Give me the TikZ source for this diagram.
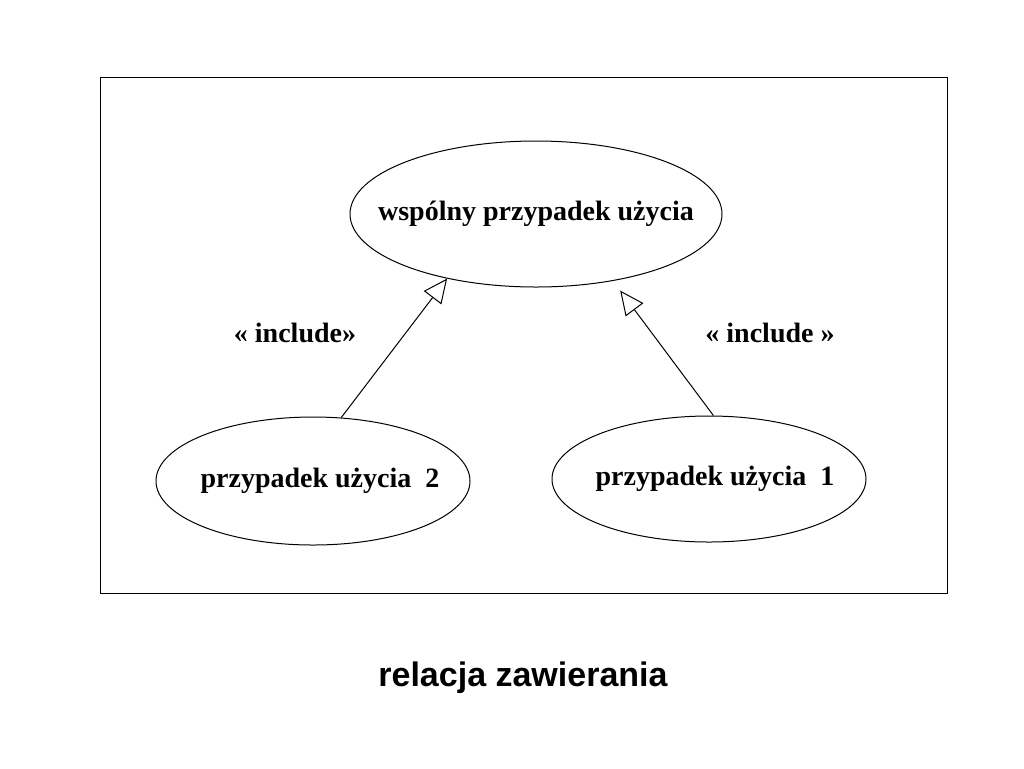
\documentclass[tikz,border=0pt]{standalone}
\usepackage{fontspec}
\setmainfont{Liberation Serif}
\newfontfamily\titlefont{Liberation Sans}
\usetikzlibrary{arrows.meta,shapes.geometric}

\begin{document}
\begin{tikzpicture}[x=0.5pt,y=-0.5pt,line width=0.5pt,
    usecase/.style={ellipse,draw,inner sep=0pt,font=\fontsize{14}{16}\selectfont\bfseries},
    incl/.style={-{Triangle[open,length=12pt,width=11pt]}}]
    \useasboundingbox (0,0) rectangle (1024,768);
    \node[rectangle,draw,minimum width=423.5pt,minimum height=258pt] (S) at (523.5,335) {};

    \node[usecase,minimum width=186pt,minimum height=73pt] (W) at (536,214) {\makebox[0pt]{wspólny przypadek użycia}};
    \node[usecase,minimum width=157pt,minimum height=64pt] (U2) at (313,481) {\makebox[0pt]{\hspace{7pt}przypadek użycia\ \ 2}};
    \node[usecase,minimum width=157pt,minimum height=63pt] (U1) at (709,479) {\makebox[0pt]{\hspace{6pt}przypadek użycia\ \ 1}};

    \node[font=\fontsize{14}{16}\selectfont\bfseries] (L2) at (295,333) {« include»};
    \node[font=\fontsize{14}{16}\selectfont\bfseries] (L1) at (770,333) {« include »};

    \node[font=\titlefont\fontsize{17}{20}\selectfont\bfseries] (T) at (523,678) {relacja zawierania};

    \draw[incl] (U2.66) -- (W.216);
    \draw[incl,shorten >=6pt] (U1.86) -- (W.319);
\end{tikzpicture}
\end{document}
